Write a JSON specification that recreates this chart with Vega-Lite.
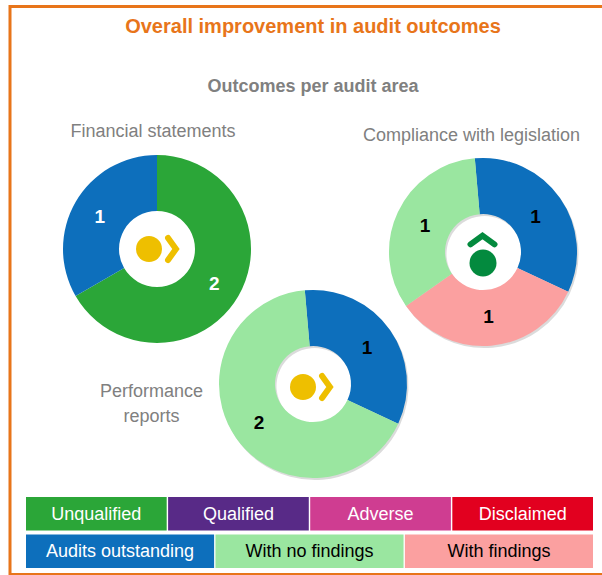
{
"$schema":"https://vega.github.io/schema/vega-lite/v6.json",
"width":600,"height":568,
"autosize":{"type":"none"},
"padding":{"left":10,"top":6.5,"right":0,"bottom":0},
"background":"white",
"view":{"stroke":"#e8751a","strokeWidth":3,"fill":null},
"config":{"axis":{"disable":true},"legend":{"disable":true},"font":"Liberation Sans"},
"title":{"text":"Overall improvement in audit outcomes","subtitle":"Outcomes per audit area","anchor":"middle","frame":"group","dx":3,"offset":-89,"fontSize":20,"fontWeight":"bold","color":"#e8751a","subtitleFontSize":18,"subtitleFontWeight":"bold","subtitleColor":"#808080","subtitlePadding":41,"font":"Liberation Sans","subtitleFont":"Liberation Sans"},
"datasets":{
"areas":[
{"area":"Financial statements","area_no":1,"outcome":"Unqualified","count":2,"seq":1},
{"area":"Financial statements","area_no":1,"outcome":"Audits outstanding","count":1,"seq":2},
{"area":"Performance reports","area_no":2,"outcome":"Audits outstanding","count":1,"seq":1},
{"area":"Performance reports","area_no":2,"outcome":"With no findings","count":2,"seq":2},
{"area":"Compliance with legislation","area_no":3,"outcome":"Audits outstanding","count":1,"seq":1},
{"area":"Compliance with legislation","area_no":3,"outcome":"With findings","count":1,"seq":2},
{"area":"Compliance with legislation","area_no":3,"outcome":"With no findings","count":1,"seq":3}],
"names":[
{"area":"Financial statements","area_no":1,"label":"Financial statements","trend":"unchanged"},
{"area":"Performance reports","area_no":2,"label":"Performance\nreports","trend":"unchanged"},
{"area":"Compliance with legislation","area_no":3,"label":"Compliance with legislation","trend":"improved"}],
"key":[
{"outcome":"Unqualified","row":"first"},{"outcome":"Qualified","row":"first"},{"outcome":"Adverse","row":"first"},{"outcome":"Disclaimed","row":"first"},
{"outcome":"Audits outstanding","row":"second"},{"outcome":"With no findings","row":"second"},{"outcome":"With findings","row":"second"}]
},
"resolve":{"scale":{"x":"independent","y":"independent","theta":"independent"}},
"layer":[
{"data":{"name":"areas"},"transform":[{"filter":"datum.area_no==1"}],
 "encoding":{
  "x":{"field":"area_no","type":"quantitative","scale":{"domain":[1,2,3],"range":[147,303,473]},"axis":null},
  "y":{"field":"area_no","type":"quantitative","scale":{"domain":[1,2,3],"range":[242.5,377.5,245.5]},"axis":null},
  "theta":{"field":"count","type":"quantitative","stack":true,"scale":{"domain":[0,3],"range":[0,6.2832]}},
  "order":{"field":"seq","type":"quantitative"}},
 "layer":[
  {"mark":{"type":"arc","innerRadius":38,"outerRadius":94},"encoding":{"color":{"field":"outcome","type":"nominal","legend":null,"scale":{"domain":["Unqualified","Qualified","Adverse","Disclaimed","Audits outstanding","With no findings","With findings"],"range":["#2ba638","#582a87","#cf3d91","#e2001f","#0d6fbc","#9ae6a0","#fba0a0"]}}}},
  {"mark":{"type":"text","radius":66,"dy":1.5,"fontSize":19,"fontWeight":"bold","color":"#ffffff"},"encoding":{"text":{"field":"count","type":"quantitative"}}}]},
{"data":{"name":"areas"},"transform":[{"filter":"datum.area_no==3"}],
 "encoding":{
  "x":{"field":"area_no","type":"quantitative","scale":{"domain":[1,2,3],"range":[147,303,473]},"axis":null},
  "y":{"field":"area_no","type":"quantitative","scale":{"domain":[1,2,3],"range":[242.5,377.5,245.5]},"axis":null},
  "theta":{"field":"count","type":"quantitative","stack":true,"scale":{"domain":[0,3],"range":[-0.0873,6.1959]}},
  "order":{"field":"seq","type":"quantitative"}},
 "layer":[
  {"mark":{"type":"arc","innerRadius":38,"outerRadius":94,"xOffset":1.5,"yOffset":2,"color":"#000000","opacity":0.14}},
  {"mark":{"type":"arc","innerRadius":38,"outerRadius":94},"encoding":{"color":{"field":"outcome","type":"nominal","legend":null}}},
  {"mark":{"type":"text","radius":64,"dy":1.5,"fontSize":19,"fontWeight":"bold","color":"#000000"},"encoding":{"text":{"field":"count","type":"quantitative"}}}]},
{"data":{"name":"areas"},"transform":[{"filter":"datum.area_no==2"}],
 "encoding":{
  "x":{"field":"area_no","type":"quantitative","scale":{"domain":[1,2,3],"range":[147,303,473]},"axis":null},
  "y":{"field":"area_no","type":"quantitative","scale":{"domain":[1,2,3],"range":[242.5,377.5,245.5]},"axis":null},
  "theta":{"field":"count","type":"quantitative","stack":true,"scale":{"domain":[0,3],"range":[-0.0873,6.1959]}},
  "order":{"field":"seq","type":"quantitative"}},
 "layer":[
  {"mark":{"type":"arc","innerRadius":38,"outerRadius":94,"xOffset":1.5,"yOffset":2,"color":"#000000","opacity":0.14}},
  {"mark":{"type":"arc","innerRadius":38,"outerRadius":94},"encoding":{"color":{"field":"outcome","type":"nominal","legend":null}}},
  {"mark":{"type":"text","radius":66,"dy":1.5,"fontSize":19,"fontWeight":"bold","color":"#000000"},"encoding":{"text":{"field":"count","type":"quantitative"}}}]},
{"data":{"name":"names"},
 "encoding":{
  "x":{"field":"area_no","type":"quantitative","scale":{"domain":[1,2,3],"range":[147,303,473]},"axis":null},
  "y":{"field":"area_no","type":"quantitative","scale":{"domain":[1,2,3],"range":[242.5,377.5,245.5]},"axis":null}},
 "layer":[
  {"transform":[{"filter":"datum.area_no==1"}],"mark":{"type":"text","dx":-4,"dy":-117.5,"fontSize":18,"color":"#808080"},"encoding":{"text":{"field":"label"}}},
  {"transform":[{"filter":"datum.area_no==3"}],"mark":{"type":"text","dx":-11.5,"dy":-116.5,"fontSize":18,"color":"#808080"},"encoding":{"text":{"field":"label"}}},
  {"transform":[{"filter":"datum.area_no==2"}],"mark":{"type":"text","dx":-161.5,"dy":7.5,"fontSize":18,"color":"#808080","lineBreak":"\n","lineHeight":25},"encoding":{"text":{"field":"label"}}},
  {"transform":[{"filter":"datum.area_no==1"}],"mark":{"type":"point","filled":true,"opacity":1,"size":676,"shape":"circle","xOffset":-8,"yOffset":0,"color":"#eebf00"}},
  {"transform":[{"filter":"datum.area_no==1"}],"mark":{"type":"point","filled":false,"opacity":1,"size":484,"shape":"M-0.36,-1L0.36,0L-0.36,1","xOffset":15,"yOffset":0,"color":"#eebf00","strokeWidth":6,"strokeCap":"round"}},
  {"transform":[{"filter":"datum.area_no==2"}],"mark":{"type":"point","filled":true,"opacity":1,"size":676,"shape":"circle","xOffset":-10,"yOffset":3,"color":"#eebf00"}},
  {"transform":[{"filter":"datum.area_no==2"}],"mark":{"type":"point","filled":false,"opacity":1,"size":484,"shape":"M-0.36,-1L0.36,0L-0.36,1","xOffset":13,"yOffset":3,"color":"#eebf00","strokeWidth":6,"strokeCap":"round"}},
  {"transform":[{"filter":"datum.area_no==3"}],"mark":{"type":"point","filled":true,"opacity":1,"size":729,"shape":"circle","xOffset":0,"yOffset":11,"color":"#038a3e"}},
  {"transform":[{"filter":"datum.area_no==3"}],"mark":{"type":"point","filled":false,"opacity":1,"size":576,"shape":"M-1,0.36L0,-0.36L1,0.36","xOffset":-0.5,"yOffset":-12,"color":"#038a3e","strokeWidth":6,"strokeCap":"round"}}
 ]},
{"data":{"name":"key"},"transform":[{"filter":"datum.row=='first'"}],
 "encoding":{
  "x":{"field":"outcome","type":"nominal","sort":null,"axis":null,"scale":{"type":"band","domain":["Unqualified","Qualified","Adverse","Disclaimed"],"range":[16,583],"paddingInner":0.01,"paddingOuter":0}},
  "y":{"field":"row","type":"nominal","axis":null,"scale":{"type":"band","domain":["first","second"],"range":[490.5,561.5],"paddingInner":0.107,"paddingOuter":0}}},
 "layer":[
  {"mark":{"type":"rect"},"encoding":{"color":{"field":"outcome","type":"nominal","legend":null}}},
  {"mark":{"type":"text","dy":1,"fontSize":18,"color":"#ffffff"},"encoding":{"text":{"field":"outcome"}}}]},
{"data":{"name":"key"},"transform":[{"filter":"datum.row=='second'"}],
 "encoding":{
  "x":{"field":"outcome","type":"nominal","sort":null,"axis":null,"scale":{"type":"band","domain":["Audits outstanding","With no findings","With findings"],"range":[16,583],"paddingInner":0.007,"paddingOuter":0}},
  "y":{"field":"row","type":"nominal","axis":null,"scale":{"type":"band","domain":["first","second"],"range":[490.5,561.5],"paddingInner":0.107,"paddingOuter":0}}},
 "layer":[
  {"mark":{"type":"rect"},"encoding":{"color":{"field":"outcome","type":"nominal","legend":null}}},
  {"mark":{"type":"text","dy":1,"fontSize":18},"encoding":{"text":{"field":"outcome"},"color":{"condition":{"test":"datum.outcome=='Audits outstanding'","value":"#ffffff"},"value":"#000000"}}}]}
]}
